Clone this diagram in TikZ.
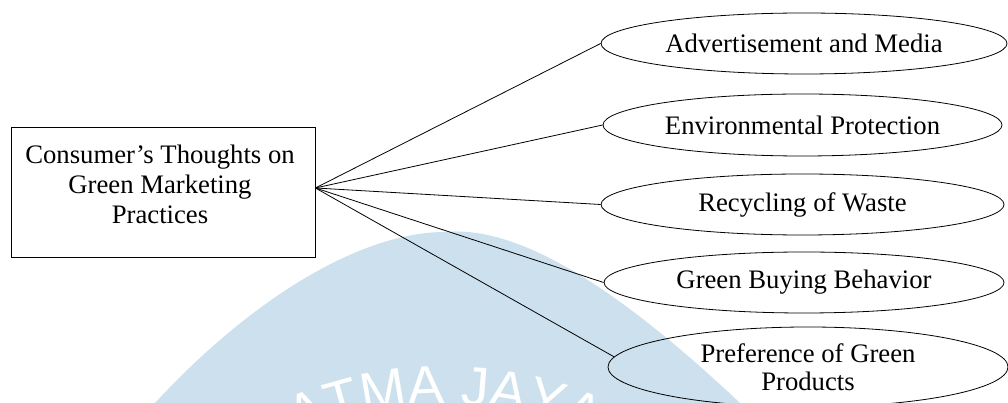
\documentclass[tikz,border=0pt]{standalone}
\usepackage{fontspec}
\setmainfont{Liberation Serif}
\newfontfamily\wmfont{Liberation Sans}
\usetikzlibrary{shapes.geometric,decorations.text}
\definecolor{wmblue}{RGB}{204,224,237}
\begin{document}
\begin{tikzpicture}[x=1pt,y=1pt,
  conn/.style={draw=black, line width=0.8pt},
  idea/.style={ellipse, draw=black, line width=0.8pt, inner sep=0pt, align=center,
    font=\fontsize{26.7}{28}\selectfont},
  mainbox/.style={rectangle, draw=black, line width=0.8pt, minimum width=304pt,
    minimum height=130pt, inner sep=0pt},
  maintext/.style={align=center, inner sep=0pt, font=\fontsize{26.7}{30}\selectfont}]
\useasboundingbox (0,0) rectangle (1008,403);
% watermark
\begin{scope}
\clip (0,0) rectangle (1008,403);
\fill[wmblue] (155,0) .. controls (250,103) and (360,171) .. (445,171)
  .. controls (520,178) and (620,113) .. (740,0) -- cycle;
\path[decorate, decoration={text along path,
  text={|\wmfont\fontsize{55}{55}\selectfont|ATMA JAYA},
  text align=center, text color=white}]
  (445,-362) ++(130:361) arc[start angle=130, end angle=50, radius=361];
\end{scope}
% nodes
\node[mainbox] (box) at (163,211) {};
\node[maintext] (boxtext) at (160,219) {Consumer’s Thoughts on\\Green Marketing\\Practices};
\node[idea, minimum width=406pt, minimum height=61pt] (e1) at (804,359.5) {Advertisement and Media};
\node[idea, minimum width=399pt, minimum height=62pt] (e2) at (802.5,278) {Environmental Protection};
\node[idea, minimum width=403pt, minimum height=61pt] (e3) at (802.5,198.5) {Recycling of Waste};
\node[idea, minimum width=400pt, minimum height=61pt] (e4) at (804,120.5) {Green Buying Behavior};
\node[idea, minimum width=400pt, minimum height=80pt] (e5) at (808,36) {Preference of Green\\Products};
% connectors
\coordinate (hub) at ([yshift=4pt]box.east);
\draw[conn] (hub) -- (e1.west);
\draw[conn] (hub) -- (e2.west);
\draw[conn] (hub) -- (e3.west);
\draw[conn] (hub) -- (e4.west);
\draw[conn] (hub) -- (e5.177);
\end{tikzpicture}
\end{document}
